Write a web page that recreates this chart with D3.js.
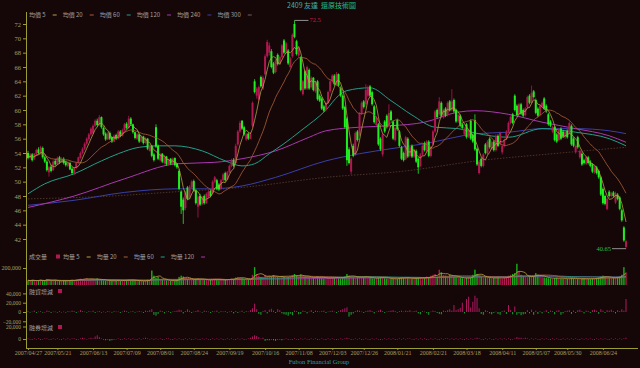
<!DOCTYPE html>
<html>
<head>
<meta charset="utf-8">
<script src="https://cdn.jsdelivr.net/npm/d3@7"></script>
<style>
  body { margin: 0; background: #150608; }
  svg { display: block; }
</style>
</head>
<body>
<script>
// daily candles, [open, high, low, close]
const ohlc = [
  [54.0,54.3,53.1,53.3],[53.3,54.0,53.1,53.8],[53.8,54.0,52.8,53.0],[53.2,54.0,53.0,53.9],[53.9,54.6,53.7,54.4],
  [54.5,54.8,53.8,54.0],[54.0,55.0,53.9,54.8],[54.7,54.9,53.2,53.4],[53.4,53.6,52.6,52.8],[52.8,53.0,51.4,51.6],
  [51.3,52.2,50.7,52.0],[52.1,52.4,51.3,51.5],[51.6,53.0,51.5,52.8],[52.9,53.2,52.2,52.4],[52.4,53.5,52.3,53.3],
  [53.4,53.6,52.5,52.7],[52.7,53.4,52.6,53.2],[53.2,53.4,52.4,52.6],[52.7,52.9,52.1,52.3],[52.2,52.8,52.0,52.6],
  [52.6,52.8,51.6,51.7],[51.8,52.0,51.0,51.2],[51.1,52.0,50.9,51.9],[51.9,52.8,51.8,52.6],[52.6,53.5,52.5,53.4],
  [53.3,54.2,53.2,54.0],[54.0,54.8,53.8,54.6],[54.6,55.5,54.4,55.3],[55.3,56.2,55.1,56.0],[55.9,56.8,55.7,56.6],
  [56.6,57.6,56.4,57.4],[56.8,58.0,56.6,57.8],[57.8,58.7,57.6,58.5],[58.5,58.8,57.7,57.9],[57.9,59.3,57.8,59.0],
  [59.0,59.1,57.4,57.6],[57.5,57.7,56.4,56.6],[56.7,56.9,55.7,55.9],[55.9,56.9,55.8,56.7],[56.8,57.0,55.8,56.0],
  [56.2,56.3,55.4,55.6],[55.6,56.6,55.5,56.4],[56.5,56.7,55.8,56.0],[56.0,57.2,55.9,57.0],[57.0,57.2,56.2,56.4],
  [56.4,57.4,56.3,57.2],[57.2,58.2,57.1,58.0],[58.1,58.3,57.3,57.5],[57.5,59.2,57.4,58.8],[58.8,59.0,57.8,58.0],
  [58.0,58.1,56.7,56.9],[56.9,57.0,55.9,56.1],[56.0,56.8,55.8,56.6],[56.6,56.7,55.4,55.6],[55.6,56.5,55.5,56.3],
  [56.3,56.4,55.2,55.4],[55.4,56.2,55.3,56.0],[56.0,56.1,54.4,54.6],[54.3,55.2,54.2,55.0],[55.0,55.1,53.4,53.6],
  [53.8,54.0,52.8,53.0],[57.6,58.0,54.7,54.9],[55.0,55.2,53.0,53.2],[53.0,54.0,52.8,53.8],[53.9,54.0,52.6,52.8],
  [52.6,53.6,52.4,53.4],[53.5,53.6,52.2,52.4],[52.4,53.2,52.3,53.0],[53.2,53.3,52.3,52.5],[52.5,53.4,52.4,53.2],
  [53.3,53.4,52.1,52.3],[52.5,52.6,51.8,52.0],[51.5,51.7,48.8,49.0],[48.6,48.8,45.5,46.5],[47.5,47.8,44.1,46.0],
  [46.3,48.7,46.0,48.5],[49.2,49.4,47.4,47.6],[47.8,49.5,47.6,49.3],[49.2,50.2,49.0,50.0],[50.1,50.3,48.6,48.8],
  [48.8,49.0,46.8,47.0],[46.5,48.1,45.0,47.9],[48.0,48.3,46.6,46.8],[46.9,48.0,46.7,47.8],[48.0,48.2,46.8,47.0],
  [47.0,48.5,46.9,48.3],[47.8,48.8,47.7,48.6],[48.7,48.9,47.8,48.0],[48.4,50.2,48.2,50.0],[50.0,50.8,49.8,50.6],
  [50.2,50.4,48.8,49.0],[49.6,49.8,48.7,48.9],[49.0,50.4,48.9,50.2],[50.2,51.2,50.0,51.0],[51.2,51.4,50.0,50.2],
  [50.3,51.5,50.2,51.3],[51.3,52.4,51.2,52.2],[52.2,53.2,52.0,53.0],[53.0,53.3,52.0,52.2],[52.6,55.3,52.5,55.0],
  [55.2,57.2,55.0,57.0],[57.0,58.5,56.8,58.2],[58.5,58.6,57.2,57.4],[57.6,57.8,56.4,56.6],[55.9,56.8,55.7,56.6],
  [56.7,56.9,55.8,56.0],[56.0,56.9,55.9,56.7],[57.8,61.2,57.6,61.0],[64.0,64.3,62.3,62.5],[62.0,63.2,61.6,63.0],
  [61.5,63.4,61.3,63.2],[64.6,64.8,63.1,63.3],[63.0,64.8,62.8,64.5],[65.0,67.8,64.8,67.5],[67.5,69.8,67.3,69.5],
  [68.0,69.4,67.6,69.0],[68.2,68.5,65.8,66.0],[66.5,66.7,65.0,65.2],[65.3,67.1,65.1,66.9],[67.7,67.9,66.2,66.4],
  [66.5,67.6,66.3,67.4],[67.4,69.2,67.2,69.0],[69.7,69.9,67.8,68.0],[68.1,69.5,67.9,69.3],[68.3,68.5,66.3,66.5],
  [66.0,67.4,65.8,67.2],[67.5,70.7,67.3,70.5],[72.0,72.5,70.0,70.2],[69.6,69.8,67.6,67.8],[67.6,68.8,67.4,68.6],
  [67.4,67.5,62.6,62.8],[62.2,64.2,62.0,64.0],[65.4,65.6,62.8,63.0],[63.0,66.2,62.8,66.0],[65.6,65.8,62.8,63.0],
  [63.2,64.7,63.0,64.5],[64.5,64.6,62.6,62.8],[62.6,64.0,62.4,63.8],[64.0,64.2,61.3,61.5],[62.0,62.2,61.1,61.3],
  [61.6,61.8,60.0,60.2],[60.5,60.7,59.7,59.9],[60.0,61.2,59.8,61.0],[61.0,62.7,60.8,62.5],[62.6,64.2,62.4,64.0],
  [64.0,65.0,63.8,64.8],[64.8,65.0,63.4,63.6],[63.6,65.3,63.4,65.0],[65.0,65.1,63.2,63.4],[63.1,63.3,61.8,62.0],
  [62.0,62.2,60.0,60.2],[60.4,60.6,57.4,57.6],[58.8,59.0,52.2,53.0],[54.5,54.8,52.4,52.6],[51.4,53.4,51.0,53.2],
  [55.0,55.3,53.4,53.6],[53.8,57.0,53.6,56.8],[57.0,57.2,55.6,55.8],[56.5,59.7,56.3,59.5],[59.5,61.2,59.3,61.0],
  [61.2,61.4,60.2,60.4],[60.8,63.6,60.6,62.8],[62.0,63.4,61.8,63.2],[63.3,63.5,61.8,62.0],[62.5,62.7,60.6,60.8],
  [60.5,60.7,58.1,58.3],[57.9,59.2,57.7,59.0],[58.0,58.2,55.0,55.2],[56.0,56.2,54.3,54.5],[53.8,56.8,53.5,56.6],
  [58.4,58.6,56.8,57.0],[59.2,59.4,57.4,57.6],[57.8,60.8,57.6,59.6],[59.8,60.0,58.4,58.6],[58.4,58.6,55.8,56.0],
  [55.8,57.7,55.6,57.5],[58.6,58.8,57.1,57.3],[57.0,57.2,54.8,55.0],[54.8,55.0,53.0,53.2],[54.0,54.2,52.8,53.0],
  [53.2,56.4,53.0,56.2],[56.0,56.2,53.3,53.5],[53.6,55.0,53.4,54.8],[55.0,55.2,53.3,53.5],[53.5,54.6,53.3,54.4],
  [54.3,54.5,52.6,52.8],[53.2,53.4,51.1,52.0],[52.2,54.0,52.0,53.8],[53.8,55.2,53.6,55.0],[55.4,55.6,54.2,54.4],
  [54.3,55.8,54.1,55.6],[55.6,55.8,53.4,53.6],[53.6,55.0,53.4,54.8],[55.2,57.2,55.0,57.0],[57.0,60.0,56.8,59.8],
  [60.0,60.2,58.8,59.0],[59.4,61.8,59.2,61.2],[61.0,61.2,59.0,59.2],[59.0,60.2,58.8,60.0],[60.2,60.4,59.0,59.2],
  [59.3,61.2,59.1,61.0],[61.2,61.4,59.8,60.0],[60.0,62.9,59.8,61.2],[61.4,61.6,59.6,59.8],[60.0,60.2,58.2,58.4],
  [58.4,59.5,58.2,59.3],[59.2,59.4,57.6,57.8],[58.0,58.2,57.3,57.5],[56.6,57.6,56.4,57.4],[58.0,58.2,56.0,56.2],
  [56.3,57.4,56.1,57.2],[58.5,58.7,55.8,56.0],[56.5,56.7,55.4,55.6],[58.6,59.4,54.3,54.5],[54.6,54.8,52.2,52.4],
  [51.2,53.0,51.0,52.8],[53.2,53.4,52.0,52.2],[52.2,54.0,52.0,53.8],[55.2,55.4,53.8,54.0],[53.9,55.8,53.7,55.6],
  [56.0,56.2,54.6,54.8],[54.6,55.7,54.4,55.5],[55.6,55.8,54.2,54.4],[54.4,56.6,54.2,56.4],[56.4,56.6,54.8,55.0],
  [55.2,57.0,55.0,56.8],[54.1,55.2,53.8,55.0],[55.0,56.0,54.8,55.8],[56.0,57.2,55.8,57.0],[57.0,58.4,56.8,58.2],
  [58.2,59.2,58.0,59.0],[59.4,59.6,58.0,58.2],[62.0,62.2,59.8,60.0],[60.6,60.8,59.1,59.3],[59.4,61.0,59.2,60.8],
  [60.8,61.0,59.3,59.5],[60.0,60.2,59.0,59.2],[59.3,60.4,59.1,60.2],[60.4,62.0,60.2,61.8],[62.0,62.2,60.8,61.0],
  [61.0,63.4,60.8,62.4],[62.6,62.8,61.6,61.8],[61.4,61.6,59.4,59.6],[60.2,60.4,59.0,59.2],[59.3,60.8,59.1,60.6],
  [60.5,61.2,60.3,61.0],[61.6,61.8,60.0,60.2],[60.6,60.8,59.6,59.8],[59.4,59.6,57.8,58.0],[58.4,58.6,57.6,57.8],
  [57.0,57.8,56.8,57.6],[57.6,57.8,55.6,55.8],[56.6,56.8,55.4,55.6],[55.8,57.4,55.6,57.2],[57.4,57.6,55.8,56.0],
  [57.0,57.2,56.1,56.3],[56.2,57.2,56.0,57.0],[57.1,57.3,56.0,56.2],[56.8,58.4,56.6,58.2],[57.8,58.0,55.0,55.2],
  [56.0,56.2,54.8,55.0],[54.1,55.2,53.9,55.0],[56.2,56.4,54.6,54.8],[53.4,54.5,53.2,54.3],[53.9,54.1,52.2,52.4],
  [53.0,53.2,52.4,52.6],[52.5,53.6,52.3,53.4],[53.4,53.6,52.4,52.6],[52.8,53.0,52.0,52.2],[52.4,52.6,51.2,51.4],
  [51.3,52.2,51.1,52.0],[52.0,52.2,51.0,51.2],[51.5,51.7,50.4,50.6],[50.6,50.8,48.0,48.2],[49.0,49.2,46.8,47.0],
  [48.0,48.2,46.7,46.9],[46.2,47.8,46.0,47.6],[48.6,48.8,47.8,48.0],[48.0,48.6,47.8,48.4],[48.5,48.7,47.8,48.0],
  [47.1,48.6,46.9,48.4],[48.2,48.4,47.4,47.6],[47.8,48.0,46.0,46.2],[46.0,46.2,44.4,44.6],[43.6,43.8,41.6,41.8],
  [40.9,41.9,40.65,41.7]
];

// long moving averages: [bar index, value]
const ma60 = [[0,48.3],[8,49.7],[22,51.1],[35,52.9],[43,53.9],[53,54.8],[62,55.0],[70,55.0],[83,54.3],[94,52.9],[102,52.2],[108,52.5],[115,53.9],[122,55.3],[130,57.1],[142,60.0],[148,62.0],[152,62.7],[163,63.1],[173,61.3],[183,59.3],[194,57.6],[205,57.4],[213,56.8],[229,56.2],[245,57.4],[261,56.9],[277,56.0],[285,55.0]];
const ma120 = [[0,46.4],[22,48.0],[46,50.4],[71,52.5],[89,52.7],[102,53.2],[118,54.3],[134,56.2],[142,57.1],[158,57.6],[173,57.8],[189,58.3],[205,59.7],[213,59.9],[229,59.4],[245,58.3],[261,57.4],[277,56.4],[285,55.5]];
const ma240 = [[0,46.7],[22,47.4],[46,48.5],[71,49.0],[86,49.0],[102,49.4],[118,50.6],[142,52.9],[158,53.9],[173,54.6],[189,55.3],[214,56.7],[229,56.9],[245,57.4],[261,57.4],[277,57.1],[285,56.7]];
const ma300 = [[0,47.6],[40,48.0],[71,48.6],[102,49.2],[142,50.6],[180,51.5],[214,52.9],[250,53.9],[285,54.8]];

// volume in thousands of lots
const volume = [
  55,48,60,52,45,58,62,50,47,70,65,52,48,55,50,46,44,58,53,49,
  56,60,52,64,70,75,68,72,80,66,74,70,62,78,58,64,56,50,48,52,
  47,55,50,58,46,52,60,56,65,54,58,50,46,52,48,45,50,62,58,170,
  110,85,95,70,62,58,55,50,48,52,50,58,95,110,100,80,72,66,60,68,
  75,82,70,62,58,60,55,64,70,66,58,55,62,68,60,64,70,76,72,90,
  95,88,80,70,64,66,72,120,210,130,110,95,88,120,105,110,100,115,98,92,
  90,105,96,88,92,100,118,130,110,98,125,105,100,98,92,88,85,96,102,90,
  85,80,78,82,88,90,86,92,84,80,90,100,130,110,98,92,88,96,100,95,
  92,98,86,84,80,78,82,88,94,90,80,76,72,70,74,80,72,86,90,84,
  88,82,76,72,80,86,90,84,78,82,100,95,110,120,130,100,180,150,120,110,
  105,120,115,98,92,88,84,80,76,82,90,86,120,180,130,110,95,88,92,86,
  82,78,84,90,86,80,76,88,96,110,120,130,140,250,160,120,100,95,92,110,
  105,96,140,120,100,92,88,84,80,78,76,82,86,80,76,72,70,74,78,82,
  76,72,70,68,74,78,72,70,68,76,80,84,90,100,110,96,88,84,80,86,
  90,96,100,120,210,150
];

// margin purchase change, thousands of lots
const margin = [
  2,-1,1,3,-2,1,2,-1,0,3,2,-2,1,1,-1,2,0,1,-1,2,
  1,3,2,-2,1,4,2,1,-1,2,1,3,-2,1,2,-1,1,0,2,1,
  -1,2,1,1,-2,1,3,2,-1,1,2,-1,1,2,1,-2,3,2,4,6,
  -6,-8,-4,3,2,-3,1,2,-2,1,2,3,5,4,-3,2,6,3,-2,1,
  2,4,1,-1,3,2,1,-2,2,1,3,-1,2,1,2,-1,1,2,-3,2,
  -2,1,3,-1,2,1,4,8,18,6,-4,-6,2,4,-3,5,7,3,-2,6,
  4,-3,-5,-6,-8,-4,-7,3,2,-5,-4,3,2,-3,1,4,-2,3,2,1,
  2,3,-2,1,2,3,1,-2,2,4,6,8,10,-10,-6,-3,2,4,3,1,
  -2,2,3,4,2,-3,1,3,5,2,-2,1,2,3,4,2,-1,2,3,1,
  3,2,4,1,2,3,-3,-5,2,1,-2,-6,1,3,2,-2,-4,-5,3,2,
  4,6,3,15,4,6,9,20,-3,28,33,10,22,35,30,8,-4,-6,4,2,
  -3,-5,-2,1,-4,-6,2,3,-4,15,4,-5,12,-6,-3,-7,-5,-4,4,-3,
  5,-6,3,-4,2,-3,1,4,-2,3,2,-5,3,4,-6,-3,2,3,4,-4,
  3,-2,4,5,2,-3,3,2,-2,4,5,3,-4,6,3,-2,4,3,5,2,
  -3,4,2,6,3,28
];

// short sale change, thousands of lots
const shortSale = [
  1,0,-1,1,0,1,-1,0,1,1,0,-1,1,0,1,0,-1,1,0,1,
  0,1,1,-1,0,1,2,1,0,1,2,1,4,6,3,1,-1,-2,-1,-3,
  -2,-1,0,1,-1,0,1,0,1,-1,1,0,-1,1,0,1,2,1,0,1,
  -1,1,0,1,-1,0,1,1,0,-1,1,0,1,0,-1,1,0,1,-1,0,
  1,0,-1,1,0,1,0,-1,1,0,1,0,1,-1,0,1,0,1,0,-1,
  1,0,1,-1,0,1,2,4,6,5,3,1,2,-3,-2,-2,-1,-2,-3,-1,
  -1,-2,0,1,-1,0,-1,1,0,-1,1,0,1,0,-1,1,0,1,-1,0,
  1,0,-1,1,0,1,0,-1,0,1,0,1,2,1,-1,0,1,0,1,-1,
  0,1,0,-1,1,0,1,0,-1,0,1,0,1,0,1,-1,0,1,0,1,
  0,1,1,0,-1,1,0,1,0,1,-1,0,1,0,1,0,-1,1,0,1,
  1,0,1,-1,1,0,1,0,-1,1,0,1,0,1,2,1,0,-1,1,0,
  1,0,-1,1,0,1,0,1,0,1,-1,0,1,3,2,2,1,2,1,0,
  1,0,1,0,-1,1,0,1,0,-1,1,0,1,0,-1,1,0,1,0,1,
  0,1,0,-1,1,0,1,0,1,0,-1,1,0,1,0,1,0,-1,1,0,
  1,0,1,0,1,2
];

const dateIdx = [0,14,31,47,63,79,96,113,129,145,160,176,193,209,226,242,257,274];
const dateLbl = ["2007/04/27","2007/05/21","2007/06/13","2007/07/09","2007/08/01","2007/08/24","2007/09/19",
  "2007/10/16","2007/11/08","2007/12/03","2007/12/26","2008/01/21","2008/02/21","2008/03/18","2008/04/11",
  "2008/05/07","2008/05/30","2008/06/24"];
const priceTicks = [42,44,46,48,50,52,54,56,58,60,62,64,66,68,70,72];

const maNames = ["均價 5","均價 20","均價 60","均價 120","均價 240","均價 300"];
const maColors = ["#b4a040","#a86038","#20a088","#a838b0","#3840a8","#706060"];
const volNames = ["均量 5","均量 20","均量 60","均量 120"];

const W = 640, H = 368
const bg = "#150608"
const upC = "#b01850", dnC = "#20ee20"
const axC = "#9c9c34", txC = "#a8a060"
const latin = "'Liberation Serif', serif"
const cjk = "'Noto Sans CJK TC', sans-serif"

const svg = d3.select("body").append("svg")
    .attr("width", W).attr("height", H)
    .style("background", bg)

const N = ohlc.length
const x = d3.scaleLinear().domain([0, N - 1]).range([28, 626])
const yP = d3.scaleLinear().domain([42, 72]).range([239, 24])
const yV = d3.scaleLinear().domain([0, 200]).range([285, 268])
const yM = d3.scaleLinear().domain([0, 20]).range([312, 302.7])
const yS = d3.scaleLinear().domain([0, 20]).range([339, 326.5])

const isUp = d => d[3] >= d[0]

// moving average of closes / volumes
function movAvg(arr, n){
    return arr.map((v, i) => {
        const s = arr.slice(Math.max(0, i - n + 1), i + 1)
        return [i, d3.mean(s)]
    })
}
const closes = ohlc.map(d => d[3])

// ---- long MAs behind candles
const lineP = d3.line().x(d => x(d[0])).y(d => yP(d[1])).curve(d3.curveMonotoneX)
const maG = svg.append("g").attr("fill", "none").attr("stroke-width", 1)
maG.append("path").attr("d", lineP(ma300)).attr("stroke", "#4a3428").attr("stroke-dasharray", "1.5,1.5")
maG.append("path").attr("d", lineP(ma240)).attr("stroke", maColors[4])
maG.append("path").attr("d", lineP(ma120)).attr("stroke", maColors[3])
maG.append("path").attr("d", lineP(ma60)).attr("stroke", maColors[2])

// ---- candles
const cg = svg.append("g")
cg.selectAll("line").data(ohlc).join("line")
    .attr("x1", (d, i) => x(i)).attr("x2", (d, i) => x(i))
    .attr("y1", d => yP(d[1])).attr("y2", d => yP(d[2]))
    .attr("stroke", d => isUp(d) ? upC : dnC)
    .attr("stroke-width", 0.8)
cg.selectAll("rect").data(ohlc).join("rect")
    .attr("x", (d, i) => x(i) - 1)
    .attr("width", 2)
    .attr("y", d => yP(Math.max(d[0], d[3])))
    .attr("height", d => Math.max(1, Math.abs(yP(d[0]) - yP(d[3]))))
    .attr("fill", d => isUp(d) ? upC : dnC)

// ---- short MAs on top
const lineS = d3.line().x(d => x(d[0])).y(d => yP(d[1]))
svg.append("path").attr("fill", "none").attr("stroke", maColors[1]).attr("stroke-width", 0.8)
    .attr("d", lineS(movAvg(closes, 20)))
svg.append("path").attr("fill", "none").attr("stroke", maColors[0]).attr("stroke-width", 0.8)
    .attr("d", lineS(movAvg(closes, 5)))

// ---- high / low marks
const hiI = d3.maxIndex(ohlc, d => d[1]), loI = d3.minIndex(ohlc, d => d[2])
const hi = ohlc[hiI][1], lo = ohlc[loI][2]
svg.append("line").attr("x1", x(hiI)).attr("x2", x(hiI) + 14)
    .attr("y1", yP(hi)).attr("y2", yP(hi)).attr("stroke", "#909090")
svg.append("text").attr("x", x(hiI) + 15).attr("y", yP(hi) + 2)
    .text(hi).attr("fill", "#c02048").attr("font-size", 6.5).attr("font-family", latin)
svg.append("line").attr("x1", x(loI) - 14).attr("x2", x(loI))
    .attr("y1", yP(lo)).attr("y2", yP(lo)).attr("stroke", "#909090")
svg.append("text").attr("x", x(loI) - 15).attr("y", yP(lo) + 2).attr("text-anchor", "end")
    .text(lo.toFixed(2)).attr("fill", "#20c040").attr("font-size", 6.5).attr("font-family", latin)

// ---- volume
svg.append("g").selectAll("rect").data(volume).join("rect")
    .attr("x", (d, i) => x(i) - 0.7).attr("width", 1.4)
    .attr("y", d => yV(d)).attr("height", d => yV(0) - yV(d))
    .attr("fill", (d, i) => isUp(ohlc[i]) ? upC : "#18b018")
const lineV = d3.line().x(d => x(d[0])).y(d => yV(d[1]))
;[120, 60, 20, 5].forEach((n, k) => {
    svg.append("path").attr("fill", "none").attr("stroke-width", 0.8)
        .attr("stroke", [maColors[3], maColors[2], maColors[1], maColors[0]][k])
        .attr("d", lineV(movAvg(volume, n)))
})

// ---- margin / short change bars
function changeBars(data, ys){
    svg.append("g").selectAll("rect").data(data).join("rect")
        .attr("x", (d, i) => x(i) - 0.5).attr("width", 1)
        .attr("y", d => Math.min(ys(d), ys(0)))
        .attr("height", d => Math.max(0.6, Math.abs(ys(d) - ys(0))))
        .attr("fill", d => d >= 0 ? "#b01860" : "#18a830")
}
changeBars(margin, yM)
changeBars(shortSale, yS)

// ---- axes
function styleAxis(size){
    return g => {
        g.select(".domain").remove()
        g.selectAll("line").attr("stroke", axC)
        g.selectAll("text").attr("fill", txC).attr("font-size", size).attr("font-family", latin)
    }
}
const fmtK = d => d3.format(",")(d * 1000)
svg.append("g").attr("transform", "translate(26,0)")
    .call(d3.axisLeft(yP).tickValues(priceTicks).tickSize(3).tickPadding(2))
    .call(styleAxis(6.5))
svg.append("g").attr("transform", "translate(26,0)")
    .call(d3.axisLeft(yV).tickValues([200]).tickSize(3).tickPadding(2).tickFormat(fmtK))
    .call(styleAxis(6))
svg.append("g").attr("transform", "translate(26,0)")
    .call(d3.axisLeft(yM).tickValues([-20, 0, 20, 40]).tickSize(3).tickPadding(2).tickFormat(fmtK))
    .call(styleAxis(5.5))
svg.append("g").attr("transform", "translate(26,0)")
    .call(d3.axisLeft(yS).tickValues([0, 20]).tickSize(3).tickPadding(2).tickFormat(fmtK))
    .call(styleAxis(5.5))
svg.append("line").attr("x1", 26.5).attr("x2", 26.5).attr("y1", 12).attr("y2", 348)
    .attr("stroke", axC)
svg.append("g").attr("transform", "translate(0,348)")
    .call(d3.axisBottom(x).tickValues(dateIdx).tickFormat((d, i) => dateLbl[i]).tickSize(2).tickPadding(1))
    .call(styleAxis(6))
svg.append("line").attr("x1", 26).attr("x2", 638).attr("y1", 348.5).attr("y2", 348.5).attr("stroke", axC)

// ---- legends
function legend(y, items, colors, startX){
    let cx = startX
    items.forEach((t, k) => {
        const tx = svg.append("text").attr("x", cx).attr("y", y).text(t)
            .attr("fill", "#a0a0a0").attr("font-size", 6).attr("font-family", cjk)
        cx += tx.node().getComputedTextLength() + 7
        svg.append("line").attr("x1", cx).attr("x2", cx + 4).attr("y1", y - 2).attr("y2", y - 2)
            .attr("stroke", colors[k])
        cx += 10
    })
}
legend(17, maNames, maColors, 29)

svg.append("text").attr("x", 29).attr("y", 259).text("成交量")
    .attr("fill", "#a0a0a0").attr("font-size", 6).attr("font-family", cjk)
svg.append("rect").attr("x", 56).attr("y", 254.5).attr("width", 4).attr("height", 4).attr("fill", upC)
legend(259, volNames, maColors.slice(0, 4), 63)

;[["融資增減", 294], ["融券增減", 330]].forEach(([t, y]) => {
    svg.append("text").attr("x", 29).attr("y", y).text(t)
        .attr("fill", "#a0a0a0").attr("font-size", 6).attr("font-family", cjk)
    svg.append("rect").attr("x", 58).attr("y", y - 5).attr("width", 4).attr("height", 4).attr("fill", upC)
})

// ---- title and footer
svg.append("text").attr("x", 287).attr("y", 8).text("2409 友達")
    .attr("fill", "#40b0b0").attr("font-size", 7).attr("font-family", cjk)
svg.append("text").attr("x", 321).attr("y", 8).text("還原技術圖")
    .attr("fill", "#20c090").attr("font-size", 7).attr("font-family", cjk)
svg.append("text").attr("x", 319).attr("y", 364).attr("text-anchor", "middle")
    .text("Fubon Financial Group").attr("fill", "#28a0a0").attr("font-size", 6.5).attr("font-family", latin)
</script>
</body>
</html>
